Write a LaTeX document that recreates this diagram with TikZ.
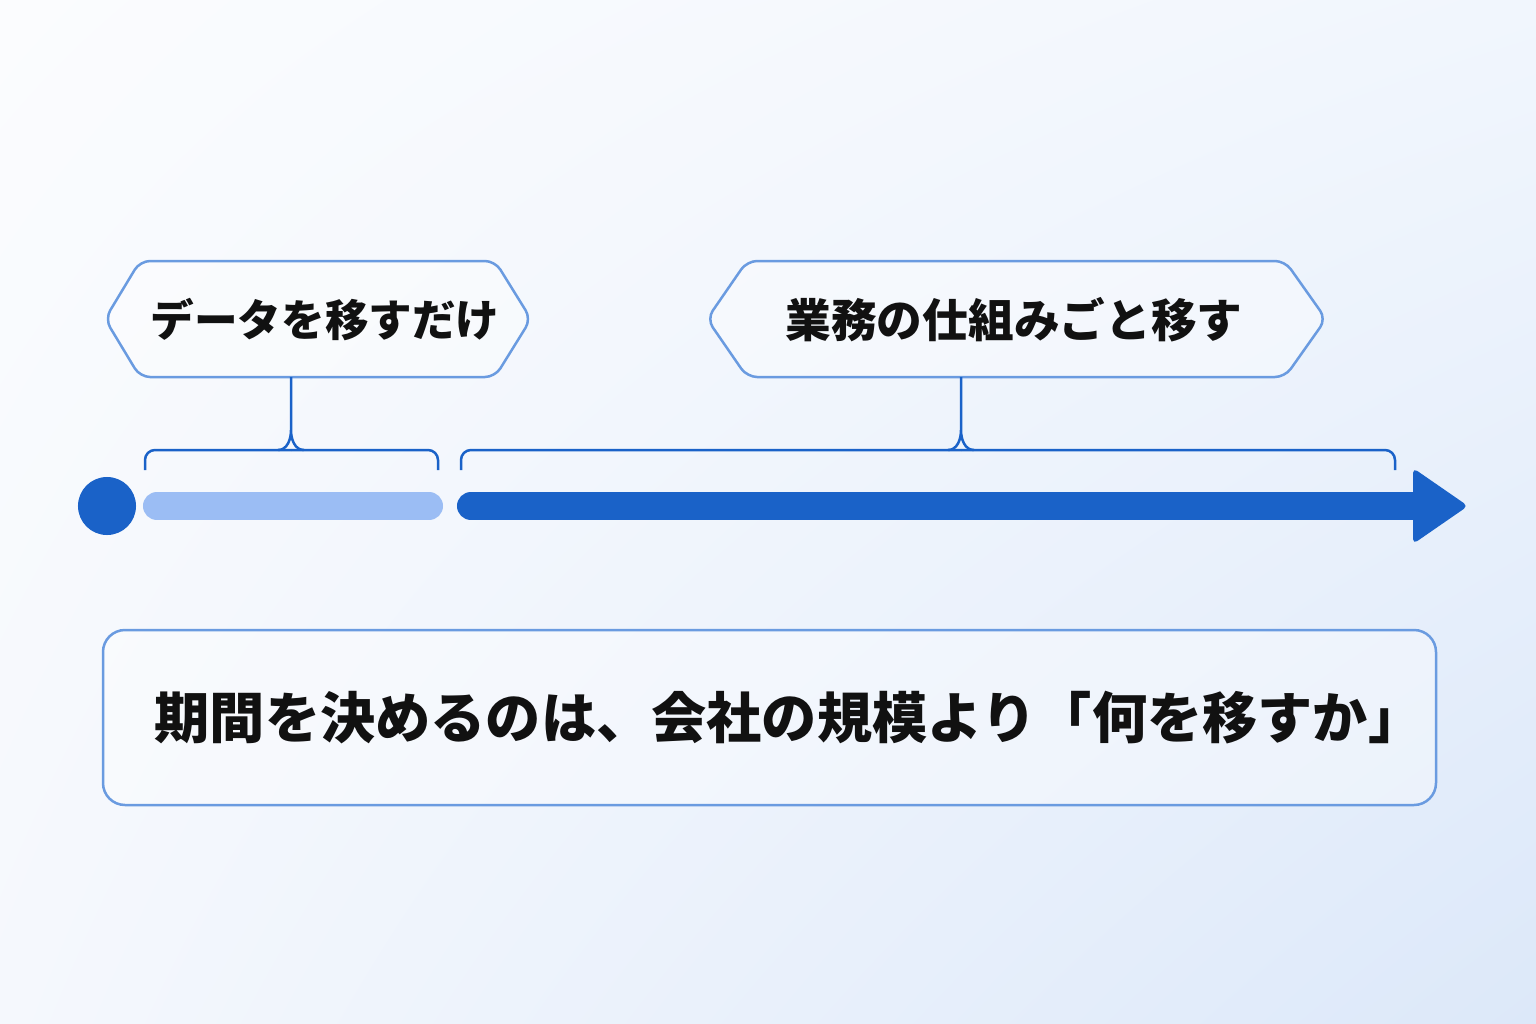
\documentclass[tikz,border=0pt]{standalone}
\usepackage{fontspec}
\newfontfamily\jp{Noto Sans CJK JP}
\usetikzlibrary{positioning}
\usetikzlibrary{shadings}
\definecolor{bgtop}{HTML}{FBFCFE}
\definecolor{bgright}{HTML}{F1F6FD}
\definecolor{bgleft}{HTML}{F5F8FD}
\definecolor{bgbottom}{HTML}{DCE8F9}
\definecolor{deepblue}{HTML}{1A62C8}
\definecolor{paleblue}{HTML}{9BBDF4}
\definecolor{edgeblue}{HTML}{6A9BE0}
\definecolor{inkblack}{HTML}{111111}
\tikzset{
  tagline/.style={draw=edgeblue, line width=0.025cm, fill=white, fill opacity=0.35, draw opacity=1},
  brace/.style={draw=deepblue, line width=0.025cm, rounded corners=0.1cm},
  tagtext/.style={font=\jp\bfseries\fontsize{13}{13}\selectfont, text=inkblack},
  bigtext/.style={font=\jp\bfseries\fontsize{15.7}{16}\selectfont, text=inkblack}
}
\begin{document}
\begin{tikzpicture}[x=0.01cm, y=-0.01cm]
  % background
  \shade[upper left=bgtop, upper right=bgright, lower left=bgleft,
    lower right=bgbottom] (0,0) rectangle (1536,1024);
  \useasboundingbox (0,0) rectangle (1536,1024);

  % tags
  \draw[tagline, rounded corners=0.1cm] (318,261) -- (495,261) -- (531,319)
    -- (495,377) -- (140,377) -- (105,319) -- (140,261) -- cycle;
  \node[tagtext, font=\jp\bfseries\fontsize{12.4}{13}\selectfont] (data) at (325,320) {データを移すだけ};
  \draw[tagline, rounded corners=0.1cm] (1016,261) -- (1285,261) -- (1326,319)
    -- (1285,377) -- (747,377) -- (707,319) -- (747,261) -- cycle;
  \node[tagtext] (work) at (1014,320) {業務の仕組みごと移す};

  % braces
  \coordinate (dataBot) at (291,377);
  \coordinate (dataCusp) at (291,430);
  \coordinate (workBot) at (961,377);
  \coordinate (workCusp) at (961,430);
  \draw[brace] (145,470) -- (145,450) -- (291,450);
  \draw[brace] (438,470) -- (438,450) -- (291,450);
  \draw[deepblue, line width=0.025cm] (dataBot) -- (dataCusp)
    to[out=-90, in=0] (278,450) (dataCusp) to[out=-90, in=180] (304,450);
  \draw[brace] (461,470) -- (461,450) -- (961,450);
  \draw[brace] (1395,470) -- (1395,450) -- (961,450);
  \draw[deepblue, line width=0.025cm] (workBot) -- (workCusp)
    to[out=-90, in=0] (948,450) (workCusp) to[out=-90, in=180] (974,450);

  % timeline
  \node[circle, fill=deepblue, minimum size=0.58cm, inner sep=0] (start) at (107,506) {};
  \coordinate (paleA) at (157,506);
  \coordinate (paleB) at (429,506);
  \coordinate (deepA) at (471,506);
  \coordinate (deepB) at (1425,506);
  \draw[paleblue, line width=0.28cm, line cap=round] (paleA) -- (paleB);
  \draw[deepblue, line width=0.28cm, line cap=round] (deepA) -- (deepB);
  \fill[deepblue, rounded corners=0.05cm] (1413,468) -- (1468,506) -- (1413,544) -- cycle;

  % message box
  \draw[tagline, rounded corners=0.22cm] (103,630) rectangle (1436,805);
  \node[bigtext] (note) at (789,718) {期間を決めるのは、会社の規模より「何を移すか」};
\end{tikzpicture}
\end{document}
